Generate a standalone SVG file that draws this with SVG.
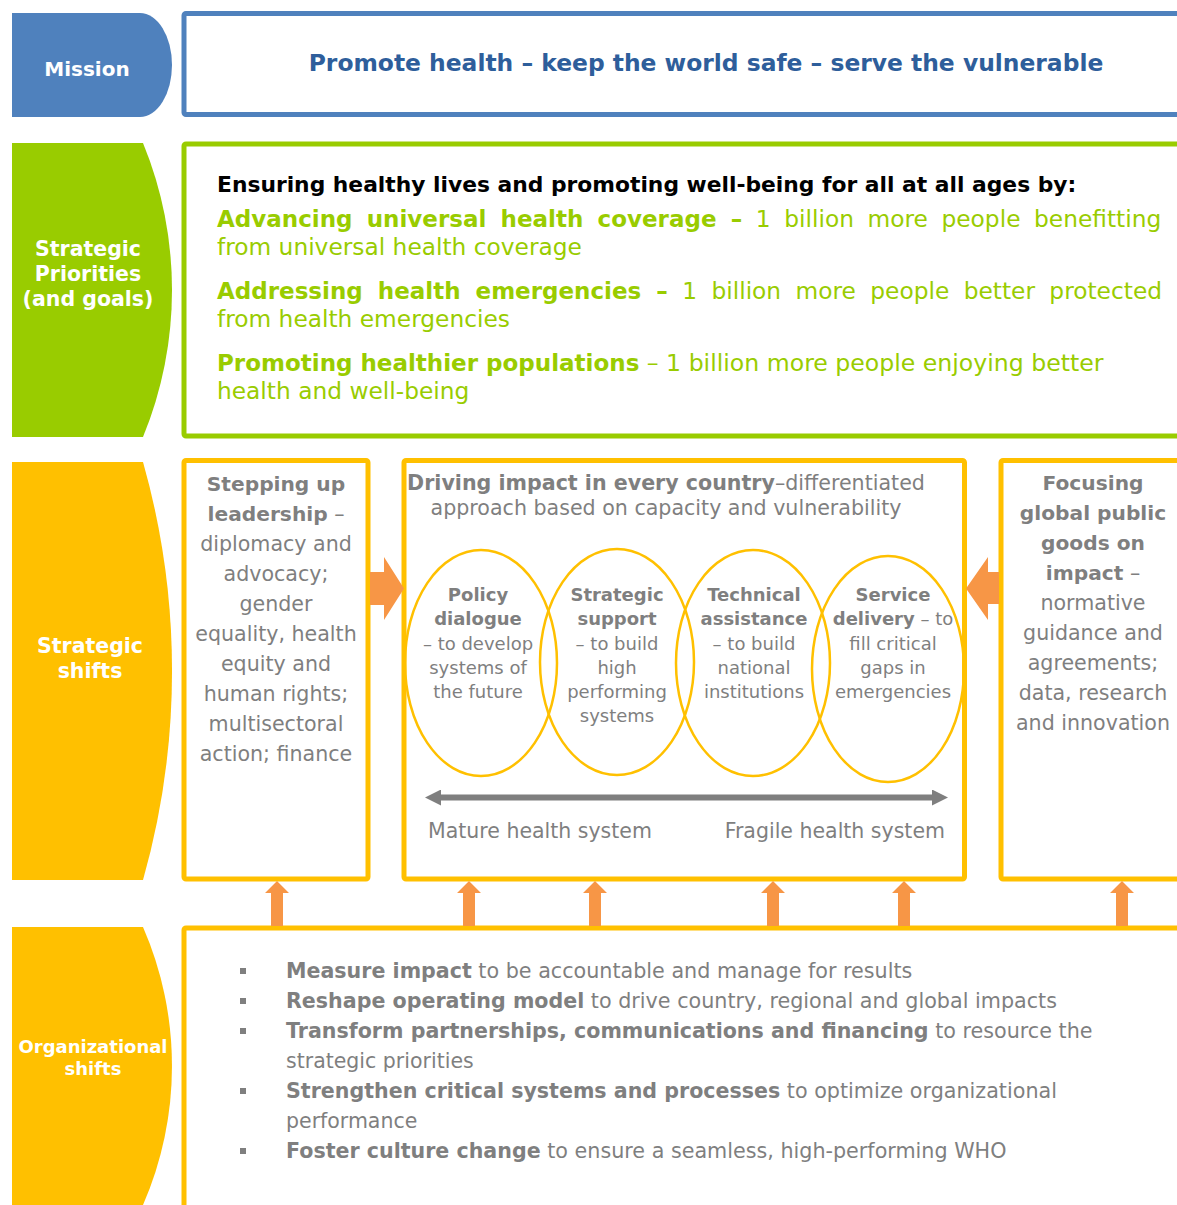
<svg xmlns="http://www.w3.org/2000/svg" width="1177" height="1205" viewBox="0 0 1177 1205">
<style>
text{font-family:"DejaVu Sans",Verdana,sans-serif}
.lbl{fill:#fff;font-weight:bold;text-anchor:middle}
.b{font-weight:bold}
.g{fill:#7f7f7f}
.yb{fill:#fff;stroke:#FFC000;stroke-width:5}
.el{fill:none;stroke:#FFC000;stroke-width:2.5}
.oa{fill:#F79646}
.gr{fill:#99CC00}
</style>
<defs>
<marker id="gh" viewBox="0 0 16 16" refX="1" refY="8" markerWidth="16" markerHeight="16" markerUnits="userSpaceOnUse" orient="auto-start-reverse"><path d="M0,0 L16,8 L0,16 Z" fill="#7f7f7f"/></marker>
</defs>
<rect width="1177" height="1205" fill="#fff"/>

<g id="mission-label">
<path d="M12,13 H140 A32,52 0 0 1 140,117 H12 Z" fill="#4F81BD"/>
<text class="lbl" x="87" y="76" font-size="20">Mission</text>
</g>
<g id="mission-box">
<rect x="184" y="13.5" width="1100" height="101" rx="2" fill="#fff" stroke="#4F81BD" stroke-width="5"/>
<text x="706" y="71" font-size="23.4" font-weight="bold" fill="#2E5E9B" text-anchor="middle">Promote health – keep the world safe – serve the vulnerable</text>
</g>

<g id="priorities-label">
<path d="M12,143 H143 A387,387 0 0 1 143,437 H12 Z" fill="#99CC00"/>
<text class="lbl" font-size="20.5"><tspan x="88" y="256">Strategic</tspan><tspan x="88" y="281">Priorities</tspan><tspan x="88" y="306">(and goals)</tspan></text>
</g>
<g id="priorities-box">
<rect x="184" y="144" width="1100" height="292" rx="2" fill="#fff" stroke="#99CC00" stroke-width="5"/>
<text x="217" y="192" font-size="21.8" font-weight="bold" fill="#000">Ensuring healthy lives and promoting well-being for all at all ages by:</text>
<text class="gr" x="217" y="227" font-size="23.3" word-spacing="6.2"><tspan class="b" font-size="23">Advancing universal health coverage –</tspan> 1 billion more people benefitting</text>
<text class="gr" x="217" y="255" font-size="23.3">from universal health coverage</text>
<text class="gr" x="217" y="299" font-size="23.3" word-spacing="7"><tspan class="b" font-size="23">Addressing health emergencies –</tspan> 1 billion more people better protected</text>
<text class="gr" x="217" y="327" font-size="23.3">from health emergencies</text>
<text class="gr" x="217" y="371" font-size="23.3"><tspan class="b" font-size="23">Promoting healthier populations</tspan><tspan font-size="23.6"> – 1 billion more people enjoying better</tspan></text>
<text class="gr" x="217" y="399" font-size="23.3">health and well-being</text>
</g>

<g id="shifts-label">
<path d="M12,462 H143 A767,767 0 0 1 143,880 H12 Z" fill="#FFC000"/>
<text class="lbl" font-size="20.5"><tspan x="90" y="653">Strategic</tspan><tspan x="90" y="678">shifts</tspan></text>
</g>

<g id="leadership-box">
<rect class="yb" x="184" y="460.5" width="184" height="418.5" rx="2"/>
<text class="g" font-size="20.6" text-anchor="middle"><tspan x="276" y="491" class="b" font-size="20.2">Stepping up</tspan><tspan x="276" y="521"><tspan class="b" font-size="20.2">leadership</tspan> –</tspan><tspan x="276" y="551">diplomacy and</tspan><tspan x="276" y="581">advocacy;</tspan><tspan x="276" y="611">gender</tspan><tspan x="276" y="641">equality, health</tspan><tspan x="276" y="671">equity and</tspan><tspan x="276" y="701">human rights;</tspan><tspan x="276" y="731">multisectoral</tspan><tspan x="276" y="761">action; finance</tspan></text>
</g>

<g id="country-box">
<rect class="yb" x="404" y="460.5" width="560.5" height="418.5" rx="2"/>
<text class="g" font-size="20.6" text-anchor="middle"><tspan x="666" y="490"><tspan class="b">Driving impact in every country</tspan>–differentiated</tspan><tspan x="666" y="515">approach based on capacity and vulnerability</tspan></text>
<text class="g" x="428" y="838" font-size="20.5">Mature health system</text>
<text class="g" x="945" y="838" font-size="20.5" text-anchor="end">Fragile health system</text>
</g>

<g id="policy-dialogue">
<ellipse class="el" cx="481" cy="663" rx="76" ry="113"/>
<text class="g" font-size="18" text-anchor="middle"><tspan x="478" y="601" class="b">Policy</tspan><tspan x="478" y="625" class="b">dialogue</tspan><tspan x="478" y="650">– to develop</tspan><tspan x="478" y="674">systems of</tspan><tspan x="478" y="698">the future</tspan></text>
</g>
<g id="strategic-support">
<ellipse class="el" cx="617" cy="662" rx="77" ry="113"/>
<text class="g" font-size="18" text-anchor="middle"><tspan x="617" y="601" class="b">Strategic</tspan><tspan x="617" y="625" class="b">support</tspan><tspan x="617" y="650">– to build</tspan><tspan x="617" y="674">high</tspan><tspan x="617" y="698">performing</tspan><tspan x="617" y="722">systems</tspan></text>
</g>
<g id="technical-assistance">
<ellipse class="el" cx="753" cy="663" rx="77" ry="113"/>
<text class="g" font-size="18" text-anchor="middle"><tspan x="754" y="601" class="b">Technical</tspan><tspan x="754" y="625" class="b">assistance</tspan><tspan x="754" y="650">– to build</tspan><tspan x="754" y="674">national</tspan><tspan x="754" y="698">institutions</tspan></text>
</g>
<g id="service-delivery">
<ellipse class="el" cx="888" cy="669" rx="76" ry="113"/>
<text class="g" font-size="18" text-anchor="middle"><tspan x="893" y="601" class="b">Service</tspan><tspan x="893" y="625"><tspan class="b">delivery</tspan> – to</tspan><tspan x="893" y="650">fill critical</tspan><tspan x="893" y="674">gaps in</tspan><tspan x="893" y="698">emergencies</tspan></text>
</g>

<g id="public-goods-box">
<rect class="yb" x="1001" y="460.5" width="300" height="418.5" rx="2"/>
<text class="g" font-size="20.6" text-anchor="middle"><tspan x="1093" y="490" class="b" font-size="20.2">Focusing</tspan><tspan x="1093" y="520" class="b" font-size="20.2">global public</tspan><tspan x="1093" y="550" class="b" font-size="20.2">goods on</tspan><tspan x="1093" y="580"><tspan class="b" font-size="20.2">impact</tspan> –</tspan><tspan x="1093" y="610">normative</tspan><tspan x="1093" y="640">guidance and</tspan><tspan x="1093" y="670">agreements;</tspan><tspan x="1093" y="700">data, research</tspan><tspan x="1093" y="730">and innovation</tspan></text>
</g>

<g id="org-label">
<path d="M12,927 H143 A348,348 0 0 1 143,1205 H12 Z" fill="#FFC000"/>
<text class="lbl" font-size="18"><tspan x="93" y="1053">Organizational</tspan><tspan x="93" y="1075">shifts</tspan></text>
</g>
<g id="org-box">
<rect class="yb" x="184" y="928" width="1100" height="400" rx="2"/>
<g fill="#7f7f7f">
<rect x="240" y="968" width="6" height="6"/>
<rect x="240" y="998" width="6" height="6"/>
<rect x="240" y="1028" width="6" height="6"/>
<rect x="240" y="1088" width="6" height="6"/>
<rect x="240" y="1148" width="6" height="6"/>
</g>
<g class="g" font-size="20.7">
<text x="286" y="978"><tspan class="b" font-size="20.6">Measure impact</tspan> to be accountable and manage for results</text>
<text x="286" y="1008"><tspan class="b" font-size="20.6">Reshape operating model</tspan> to drive country, regional and global impacts</text>
<text x="286" y="1038"><tspan class="b" font-size="20.6">Transform partnerships, communications and financing</tspan> to resource the</text>
<text x="286" y="1068" font-size="20.5">strategic priorities</text>
<text x="286" y="1098"><tspan class="b" font-size="20.6">Strengthen critical systems and processes</tspan> to optimize organizational</text>
<text x="286" y="1128" font-size="20.5">performance</text>
<text x="286" y="1158"><tspan class="b" font-size="20.6">Foster culture change</tspan> to ensure a seamless, high-performing WHO</text>
</g>
</g>

<g id="connectors">
<polygon class="oa" points="370,572 384,572 384,557 404,588.5 384,620 384,605 370,605"/>
<polygon class="oa" points="999,572 988,572 988,557 966,588.5 988,620 988,604 999,604"/>
<polygon class="oa" points="271,926 271,893 265,893 277,881 289,893 283,893 283,926"/>
<polygon class="oa" points="463,926 463,893 457,893 469,881 481,893 475,893 475,926"/>
<polygon class="oa" points="589,926 589,893 583,893 595,881 607,893 601,893 601,926"/>
<polygon class="oa" points="767,926 767,893 761,893 773,881 785,893 779,893 779,926"/>
<polygon class="oa" points="898,926 898,893 892,893 904,881 916,893 910,893 910,926"/>
<polygon class="oa" points="1116,926 1116,893 1110,893 1122,881 1134,893 1128,893 1128,926"/>
<line x1="440" y1="797.5" x2="933" y2="797.5" stroke="#7f7f7f" stroke-width="6" marker-start="url(#gh)" marker-end="url(#gh)"/>
</g>
</svg>
